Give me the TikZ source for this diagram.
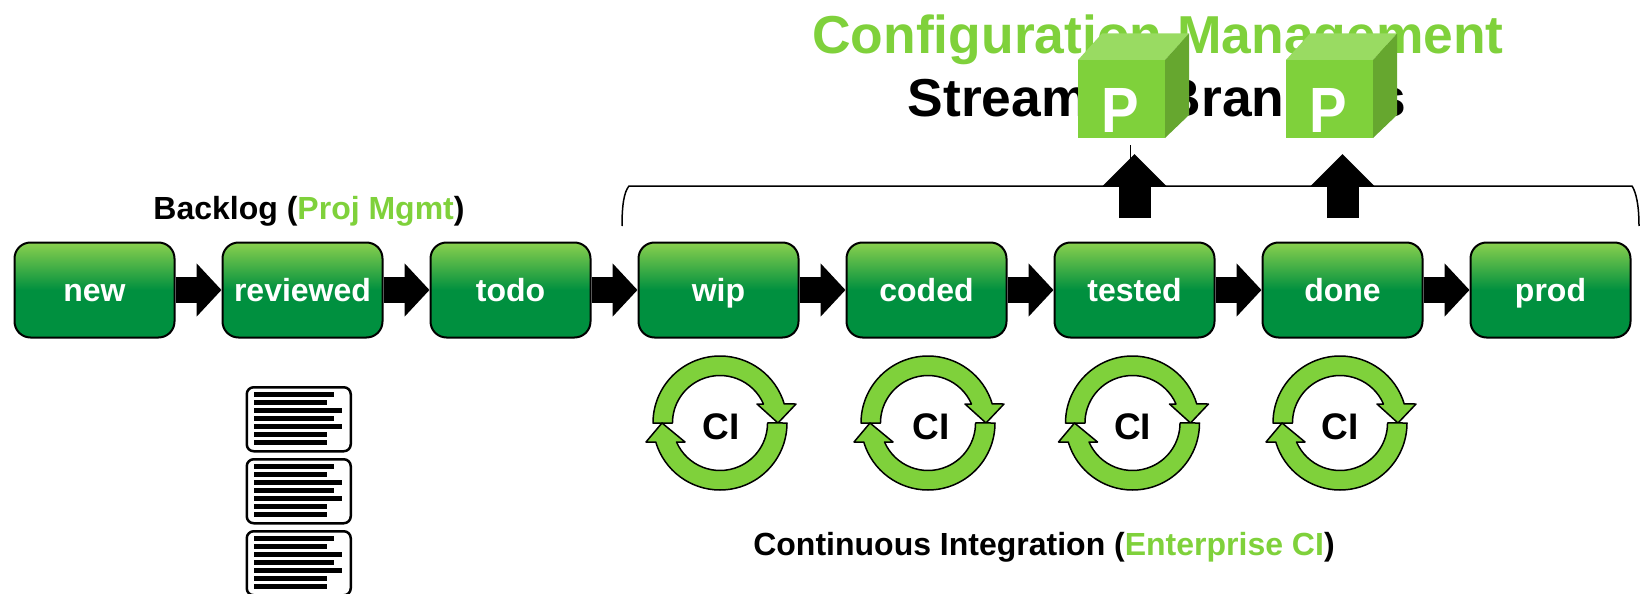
\documentclass[tikz,border=0pt]{standalone}
\usepackage{fontspec}
\setmainfont{Liberation Sans}
\usetikzlibrary{arrows.meta}
\definecolor{lg}{HTML}{8AD04E}
\definecolor{dg}{HTML}{00903F}
\definecolor{acc}{HTML}{7FD13B}
\definecolor{acctop}{HTML}{99DB62}
\definecolor{accside}{HTML}{66A72F}
\pgfdeclareverticalshading{boxshade}{100bp}{color(0bp)=(dg); color(25bp)=(dg); color(50bp)=(dg); color(75bp)=(lg); color(100bp)=(lg)}
\newcommand{\fs}[1]{\fontsize{#1}{#1}\selectfont\bfseries}
\tikzset{
  stagebox/.style={draw=black,line width=2pt,rounded corners=16pt,shading=boxshade,
    minimum width=160pt,minimum height=95pt,inner sep=0pt,text=white,font=\fs{32},text height=24pt,text depth=2pt},
  flowarrow/.style={line width=26pt,-{Triangle[length=25pt,width=52pt]},black},
  uparrow/.style={line width=32pt,-{Triangle[length=32pt,width=62pt]},black},
  bracketline/.style={draw=black,line width=1.5pt,rounded corners=0pt},
  ringpart/.style={draw=black,line width=1.5pt,fill=acc,line join=round},
  docbox/.style={draw=black,line width=2.5pt,rounded corners=7pt,fill=white,minimum width=104pt,minimum height=64pt,inner sep=0pt},
  docbar/.style={fill=black,draw=none},
  heading/.style={anchor=base,inner sep=0pt,font=\fs{53.4}},
  sublabel/.style={anchor=base,inner sep=0pt,font=\fs{32}},
  cilabel/.style={inner sep=0pt,font=\fs{37},anchor=base},
  cubeletter/.style={anchor=base,inner sep=0pt,text=white,font=\fs{64},xscale=.88},
  ciring/.pic={
    \draw[ringpart] (-67pt,0pt) arc[start angle=180,end angle=16.5,radius=67pt]
      -- (76pt,19pt) -- (58pt,0pt) -- (37pt,19pt) -- (43.5pt,19pt)
      arc[start angle=23.6,end angle=180,radius=47.5pt] -- cycle;
    \draw[ringpart] (67pt,0pt) arc[start angle=0,end angle=-163.5,radius=67pt]
      -- (-74pt,-19pt) -- (-58pt,0pt) -- (-35pt,-19pt) -- (-43.5pt,-19pt)
      arc[start angle=-156.4,end angle=0,radius=47.5pt] -- cycle;
  },
  cube/.pic={
    \fill[acc] (0pt,0pt) rectangle (87pt,-78pt);
    \fill[acctop] (0pt,0pt) -- (24pt,26.5pt) -- (111pt,26.5pt) -- (87pt,0pt) -- cycle;
    \fill[accside] (87pt,0pt) -- (111pt,26.5pt) -- (111pt,-55pt) -- (87pt,-78pt) -- cycle;
  }
}
\begin{document}
\begin{tikzpicture}[x=1pt,y=-1pt]
\useasboundingbox (0,0) rectangle (1642,594);
% headings
\node[heading,text=acc] (title) at (1158,54) {Configuration Management};
\node[heading,text=black] (streams) at (1157,116) {Streams / Branches};
\node[sublabel] (backlog) at (309,219) {Backlog (\textcolor{acc}{Proj Mgmt})};
\node[sublabel] (contint) at (1044,555) {Continuous Integration (\textcolor{acc}{Enterprise CI})};
% bracket
\coordinate (brL) at (622,226);
\coordinate (brR) at (1639,226);
\draw[bracketline] (brL) .. controls (622,205) and (624,192) .. (629,186) -- (1632,186) .. controls (1636,192) and (1639,205) .. (brR);
% flow arrows sit behind the boxes
\node[stagebox] (new) at (94.5,290) {new};
\node[stagebox] (reviewed) at (302.5,290) {reviewed};
\node[stagebox] (todo) at (510.5,290) {todo};
\node[stagebox] (wip) at (718.5,290) {wip};
\node[stagebox] (coded) at (926.5,290) {coded};
\node[stagebox] (tested) at (1134.5,290) {tested};
\node[stagebox] (done) at (1342.5,290) {done};
\node[stagebox] (prod) at (1550.5,290) {prod};
\foreach \a/\b in {new/reviewed,reviewed/todo,todo/wip,wip/coded,coded/tested,tested/done,done/prod}
  \draw[flowarrow] (\a.east) -- (\b.west);
% up arrows
\coordinate (upA0) at (1134.5,218); \coordinate (upA1) at (1134.5,154);
\coordinate (upB0) at (1342.5,218); \coordinate (upB1) at (1342.5,154);
\coordinate (tick0) at (1130.5,145); \coordinate (tick1) at (1130.5,166);
\draw[uparrow] (upA0) -- (upA1);
\draw[uparrow] (upB0) -- (upB1);
\draw[black,line width=1.5pt] (tick0) -- (tick1);
% cubes
\pic at (1078,60) {cube};
\pic at (1286,60) {cube};
\node[cubeletter] (pA) at (1120,132) {P};
\node[cubeletter] (pB) at (1328,132) {P};
% CI rings
\foreach \n/\x/\lx in {1/720/721,2/928/931,3/1132.5/1132.5,4/1340/1340}{
  \pic at (\x,423) {ciring};
  \node[cilabel] (ci\n) at (\lx,439) {CI};
}
% documents
\foreach \n/\y in {1/386,2/458,3/530}{
  \node[docbox,anchor=north west] (doc\n) at (245.5,\y) {};
  \foreach \d/\r in {8.3/334,16.3/327,24.3/342,32.3/334,40.3/342,48.3/327,56.3/327}
    \fill[docbar] (254,\y+\d-2.7) rectangle (\r,\y+\d+2.7);
}
\end{tikzpicture}
\end{document}
